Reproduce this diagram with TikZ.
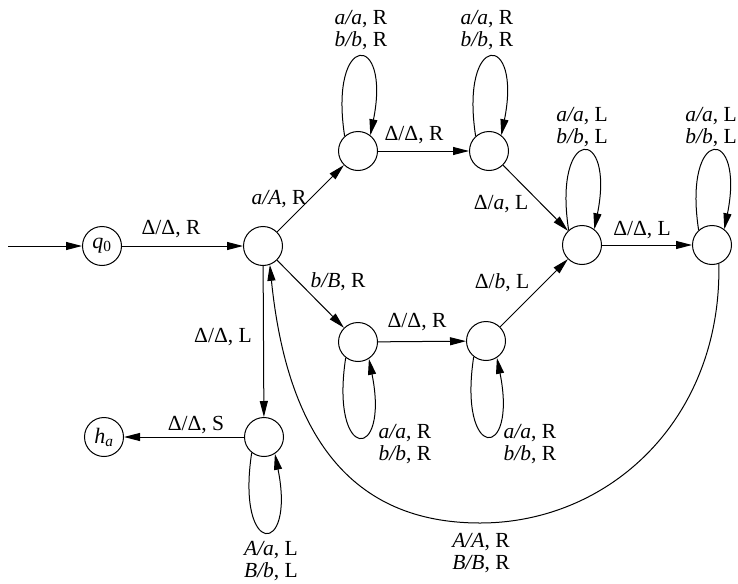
\documentclass[tikz,border=0pt]{standalone}
\usepackage{fontspec}
\setmainfont{Liberation Serif}
\usetikzlibrary{arrows.meta}
\begin{document}
\begin{tikzpicture}[x=1pt,y=-1pt,
  state/.style={circle,draw,line width=1pt,minimum size=39pt,inner sep=0pt,font=\fontsize{22}{22}\selectfont},
  edge/.style={line width=1pt,-{Triangle[length=16pt,width=8pt]}},
  lbl/.style={font=\fontsize{21.5}{22}\selectfont,align=center,inner sep=0pt},
]
\useasboundingbox (0,0) rectangle (738,583);
% states
\node[state] (q0) at (102,246) {\textit{q}\textsubscript{0}};
\node[state] (C)  at (263,246) {};
\node[state] (T1) at (358,151) {};
\node[state] (T2) at (489,151) {};
\node[state] (M)  at (582,245) {};
\node[state] (R)  at (712,245) {};
\node[state] (B1) at (358,342) {};
\node[state] (B2) at (486,341) {};
\node[state] (L)  at (264,437) {};
\node[state] (ha) at (104,437) {\textit{h}\textsubscript{\textit{a}}};
\coordinate (start) at (8,246);
% straight edges
\draw[edge] (start) -- (q0);
\draw[edge] (q0) -- (C);
\draw[edge] (C) -- (T1);
\draw[edge] (T1) -- (T2);
\draw[edge] (T2) -- (M);
\draw[edge] (M) -- (R);
\draw[edge] (C) -- (B1);
\draw[edge] (B1) -- (B2);
\draw[edge] (B2) -- (M);
\draw[edge] (C) -- (L);
\draw[edge] (L) -- (ha);
% loops
\draw[edge] (T1.132) .. controls +(-16,-105) and +(21,-104) .. (T1.52);
\draw[edge] (T2.132) .. controls +(-16,-105) and +(21,-104) .. (T2.52);
\draw[edge] (M.132) .. controls +(-16,-105) and +(21,-104) .. (M.52);
\draw[edge] (R.132) .. controls +(-16,-105) and +(21,-104) .. (R.52);
\draw[edge] (B1.-128) .. controls +(-16,105) and +(21,104) .. (B1.-57);
\draw[edge] (B2.-128) .. controls +(-16,105) and +(21,104) .. (B2.-57);
\draw[edge] (L.-128) .. controls +(-16,105) and +(21,104) .. (L.-57);
% long arc
\draw[edge] (R.-70) .. controls +(3,155) and (610,523) .. (480,523)
  .. controls (350,523) and (287,434) .. (C.-70);
% labels
\node[lbl] (l1) at (171,229) {Δ/Δ, R};
\node[lbl] (l2) at (279,199) {\textit{a/A}, R};
\node[lbl] (l3) at (414,135) {Δ/Δ, R};
\node[lbl] (l4) at (501,204) {Δ/\textit{a}, L};
\node[lbl] (l5) at (642,230) {Δ/Δ, L};
\node[lbl] (l6) at (338,282) {\textit{b/B}, R};
\node[lbl] (l7) at (417,322) {Δ/Δ, R};
\node[lbl] (l8) at (502,283) {Δ/\textit{b}, L};
\node[lbl] (l9) at (223,337) {Δ/Δ, L};
\node[lbl] (l10) at (196,425) {Δ/Δ, S};
\node[lbl] (l11) at (361,30) {\textit{a/a}, R\\\textit{b/b}, R};
\node[lbl] (l12) at (487,30) {\textit{a/a}, R\\\textit{b/b}, R};
\node[lbl] (l13) at (582,127) {\textit{a/a}, L\\\textit{b/b}, L};
\node[lbl] (l14) at (711,127) {\textit{a/a}, L\\\textit{b/b}, L};
\node[lbl] (l15) at (405,444) {\textit{a/a}, R\\\textit{b/b}, R};
\node[lbl] (l16) at (530,444) {\textit{a/a}, R\\\textit{b/b}, R};
\node[lbl] (l17) at (271,561) {\textit{A/a}, L\\\textit{B/b}, L};
\node[lbl] (l18) at (481,553) {\textit{A/A}, R\\\textit{B/B}, R};
\end{tikzpicture}
\end{document}
